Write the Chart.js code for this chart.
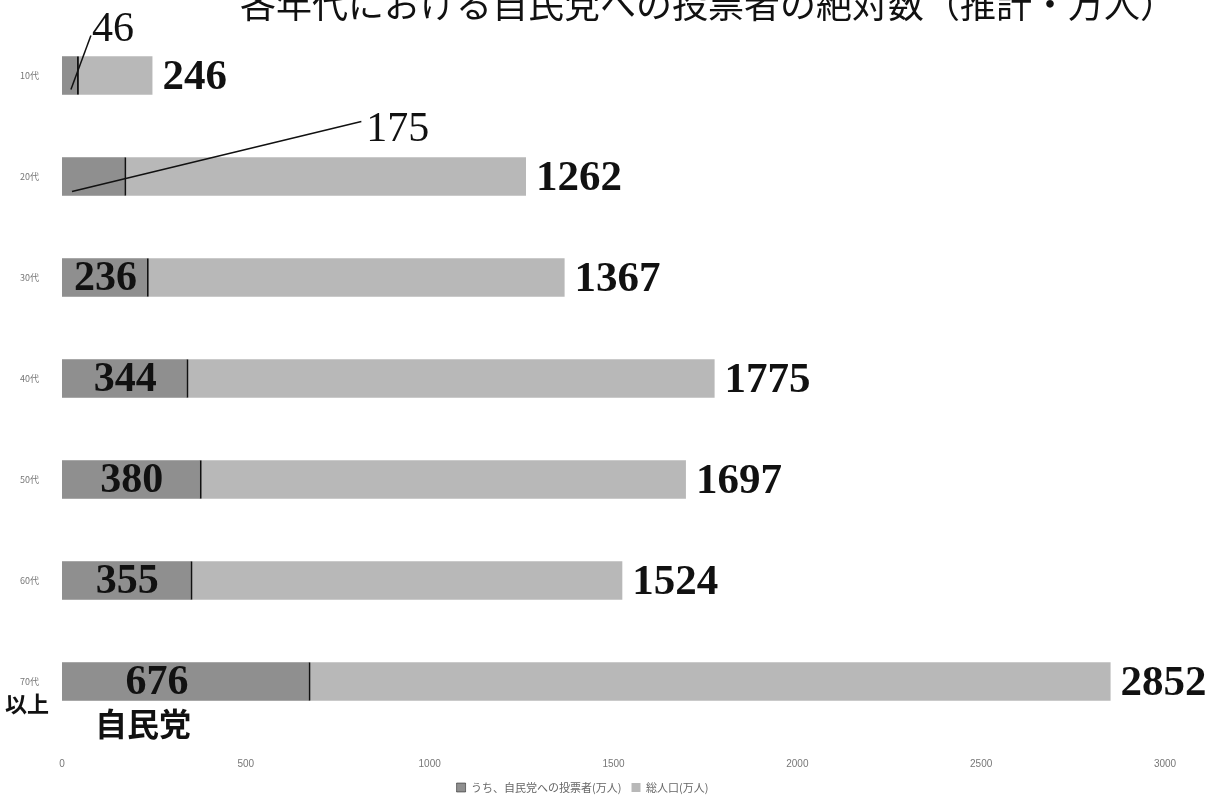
<!DOCTYPE html>
<html lang="ja">
<head>
<meta charset="utf-8">
<title>各年代における自民党への投票者の絶対数</title>
<script src="https://cdn.jsdelivr.net/npm/chart.js@4.4.1/dist/chart.umd.min.js"></script>
<style>
  body { margin: 0; background: #fff; }
  .wrap { position: relative; width: 1227px; height: 811px; overflow: hidden; }
  .title {
    position: absolute; top: -24px; left: 240px;
    font-family: "Noto Sans CJK JP", sans-serif; font-size: 36px;
    color: #111; white-space: nowrap;
  }
  canvas { position: absolute; left: 0; top: 0; }
</style>
</head>
<body>
<div class="wrap">
  <canvas id="chart" width="1227" height="811"></canvas>
  <div class="title">各年代における自民党への投票者の絶対数（推計・万人）</div>
</div>
<script>
// data
const ageGroups = ['10代', '20代', '30代', '40代', '50代', '60代', '70代'];
const ldpVoters = [46, 175, 236, 344, 380, 355, 676];
const population = [246, 1262, 1367, 1775, 1697, 1524, 2852];
const xMax = 3000;
const xStep = 500;

const numFont = '"Liberation Serif", "DejaVu Serif", serif';
const jpFont = '"Noto Sans CJK JP", sans-serif';

// value labels + notes drawn on top of bars
const labelPlugin = {
  id: 'labels',
  afterDatasetsDraw(chart) {
    const ctx = chart.ctx;
    const ldp = chart.getDatasetMeta(0).data;
    const pop = chart.getDatasetMeta(1).data;
    ctx.save();
    ctx.fillStyle = '#111';
    ctx.strokeStyle = '#111';
    ctx.textBaseline = 'middle';

    // totals to the right
    ctx.font = 'bold 43px ' + numFont;
    ctx.textAlign = 'left';
    pop.forEach((bar, i) => {
      ctx.fillText(population[i], bar.x + 10, bar.y + 2);
    });

    // ldp values inside the bar
    ctx.font = 'bold 42px ' + numFont;
    ctx.textAlign = 'center';
    ldp.forEach((bar, i) => {
      if (i < 2) return;
      const cx = bar.base + Math.min((bar.x - bar.base) / 2, 95);
      ctx.fillText(ldpVoters[i], cx, bar.y + 2);
    });

    // small ones get a leader line
    ctx.lineWidth = 1.5;
    let b = ldp[0];
    ctx.beginPath();
    ctx.moveTo(b.x - 8, b.y + 14);
    ctx.lineTo(b.x + 12, b.y - 40);
    ctx.stroke();
    ctx.font = '42px ' + numFont;
    ctx.fillText(ldpVoters[0], b.x + 34, b.y - 46);

    b = ldp[1];
    ctx.beginPath();
    ctx.moveTo(b.base + 10, b.y + 15);
    ctx.lineTo(b.x + 235, b.y - 55);
    ctx.stroke();
    ctx.textAlign = 'left';
    ctx.fillText(ldpVoters[1], b.x + 240, b.y - 47);

    // "以上" under the last tick, "自民党" under the last bar
    const last = ldp[ldp.length - 1];
    ctx.font = 'bold 22px ' + jpFont;
    ctx.textAlign = 'left';
    ctx.fillText('以上', 5, last.y + 22);
    ctx.font = 'bold 32px ' + jpFont;
    ctx.fillText('自民党', last.base + 33, last.y + 42);
    ctx.restore();
  }
};

new Chart(document.getElementById('chart'), {
  type: 'bar',
  data: {
    labels: ageGroups,
    datasets: [
      {
        label: 'うち、自民党への投票者(万人)',
        data: ldpVoters,
        backgroundColor: '#8f8f8f',
        borderColor: '#111',
        borderWidth: { right: 2 },
        borderSkipped: false
      },
      {
        label: '総人口(万人)',
        data: population,
        backgroundColor: '#b8b8b8',
        borderWidth: 0
      }
    ]
  },
  options: {
    indexAxis: 'y',
    responsive: false,
    animation: false,
    categoryPercentage: 1,
    barPercentage: 0.38,
    layout: { padding: { top: 25, right: 62, bottom: 8, left: 0 } },
    scales: {
      x: {
        min: 0,
        max: xMax,
        ticks: {
          stepSize: xStep,
          padding: 18,
          color: '#777',
          font: { size: 10 },
          callback: (v) => String(v)
        },
        grid: { display: false },
        border: { display: false },
        afterFit: (s) => { s.height = 40; }
      },
      y: {
        stacked: true,
        ticks: { padding: 15, color: '#777', font: { size: 9, family: jpFont } },
        grid: { display: false },
        border: { display: false },
        afterFit: (s) => { s.width = 62; }
      }
    },
    plugins: {
      legend: {
        position: 'bottom',
        labels: {
          boxWidth: 9,
          boxHeight: 9,
          padding: 10,
          color: '#666',
          font: { size: 11, family: jpFont }
        }
      },
      tooltip: { enabled: false }
    }
  },
  plugins: [labelPlugin]
});
</script>
</body>
</html>
